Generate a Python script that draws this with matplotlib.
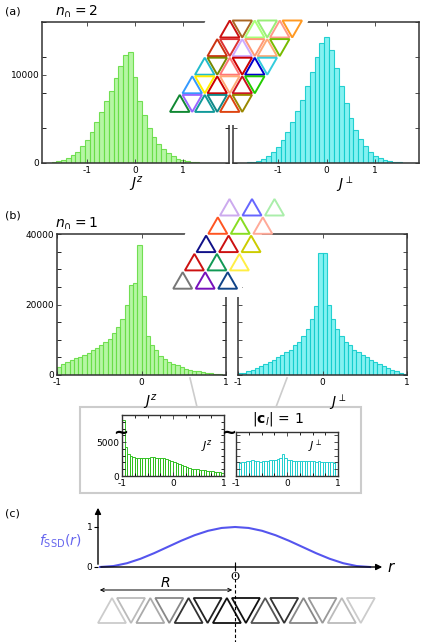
import numpy as np
import matplotlib
matplotlib.use("Agg")
import matplotlib.pyplot as plt
from matplotlib.patches import Polygon, Rectangle

W, H = 436, 642
# ---------------- data ----------------
a_jz_centers = [round(-1.8 + 0.1*i, 2) for i in range(35)]
a_jz = [50,100,200,350,600,900,1300,1900,2600,3500,4600,5800,7000,8200,9600,11000,12200,12600,
        9800,7000,5400,4000,3000,2200,1600,1100,750,500,330,200,120,70,40,20,10]
a_jp_centers = [round(-1.8 + 0.1*i, 2) for i in range(37)]
a_jp = [20,40,80,150,280,480,800,1250,1850,2600,3500,4600,5900,7200,8700,10300,12000,13600,14300,
        12800,10800,8700,6800,5100,3800,2700,1900,1300,850,550,350,220,130,80,40,20,10]
b_centers = [round(-0.975 + 0.05*i, 3) for i in range(40)]
b_jz = [2300,3000,3700,4200,4700,5200,5700,6300,7000,7800,8500,9300,10300,11800,13600,16000,
        20000,25500,26000,37000,22500,11000,8500,7000,5500,4500,3800,3200,2700,2200,1800,1500,
        1200,1000,800,600,450,300,200,100]
b_jp = [500,700,1100,1500,2000,2500,3100,3700,4300,5000,5700,6500,7200,8500,9500,11000,13000,
        16000,19500,34500,34500,20000,16000,13000,11000,9500,8500,7200,6500,5700,5000,4300,3700,
        3100,2500,2000,1500,1100,700,400]
i_jz = [8200,4300,3300,3000,2800,2700,2650,2600,2600,2650,2700,2800,2750,2700,2700,2650,2600,2500,
        2300,2200,2100,1900,1750,1600,1450,1300,1200,1100,1050,1000,950,900,850,800,750,700,650,600,550,500]
i_jp = [2000,1950,2000,2100,2150,2200,2300,2250,2200,2100,2150,2200,2250,2300,2300,2400,2500,2600,
        3300,2600,2400,2300,2250,2200,2200,2150,2200,2200,2250,2200,2200,2100,2150,2100,2050,2000,
        2000,2050,1950,2000]
c_r = [round(-1 + 0.1*i, 1) for i in range(21)]
c_f = [0,0.024,0.095,0.206,0.345,0.5,0.655,0.794,0.905,0.976,1,0.976,0.905,0.794,0.655,0.5,
       0.345,0.206,0.095,0.024,0]
lat_a_up = [['#cc1111','#aaff77','#ff9988'],['#cc3311','#ccaaff','#ffaa77'],
            ['#22bbcc','#ff7777','#0000cc'],['#3399ff','#cc0000','#cc1122'],
            ['#118833','#119999','#dd4411']]
lat_a_dn = [['#aa6622','#99ee77','#ff9922'],['#dd3333','#ff9977','#77bb00'],
            ['#778800','#cc0000','#33ccdd'],['#ffee00','#ffaa77','#22cc00'],
            ['#9966ff','#118888','#998800']]
lat_b_up = [['#ccaaee','#6666ff','#aaeeaa'],['#ff5522','#88dd22','#ffaa99'],
            ['#111188','#cc1111','#cccc00'],['#cc1111','#119955','#ffee44'],
            ['#777777','#7711bb','#114488']]
c_up = ['#cccccc','#aaaaaa','#333333','#111111','#555555','#888888','#bbbbbb']
c_dn = ['#bbbbbb','#888888','#222222','#111111','#333333','#999999','#cccccc']

GREEN_F, GREEN_E = '#aef59a', '#66dd44'
CYAN_F, CYAN_E = '#77f0f0', '#11cccc'
DGREEN_E = '#22bb11'

fig = plt.figure(figsize=(W/100, H/100), dpi=100)

def add_ax(x0, y0, x1, y1, **kw):
    return fig.add_axes([x0/W, 1-y1/H, (x1-x0)/W, (y1-y0)/H], **kw)

def style(ax, lw=1.1):
    for s in ax.spines.values():
        s.set_color('#333333'); s.set_linewidth(lw)
    ax.tick_params(direction='in', labelsize=6.5, length=3, width=0.6,
                   top=True, right=True, pad=2, colors='#333333', labelcolor='black')

def hist(ax, centers, vals, width, fc, ec, lw=0.8):
    ax.bar(centers, vals, width=width, color=fc, edgecolor=ec, linewidth=lw, alpha=0.9)

# ---------- panel (a) ----------
ax1 = add_ax(42, 22, 229, 163)
hist(ax1, a_jz_centers, a_jz, 0.1, GREEN_F, GREEN_E)
ax1.set_xlim(-1.95, 1.97); ax1.set_ylim(0, 16000)
ax1.set_xticks([-1, 0, 1]); ax1.set_yticks([0, 10000])
ax1.set_yticks(np.arange(0, 16001, 4000), minor=True)
style(ax1); ax1.tick_params(which='minor', direction='in', length=3, right=True)
ax2 = add_ax(233, 22, 419, 163)
hist(ax2, a_jp_centers, a_jp, 0.1, CYAN_F, CYAN_E)
ax2.set_xlim(-1.93, 1.9); ax2.set_ylim(0, 16000)
ax2.set_xticks([-1, 0, 1]); ax2.set_yticks(np.arange(0, 16001, 4000)); ax2.set_yticklabels([])
style(ax2)

# ---------- panel (b) ----------
ax3 = add_ax(57, 234, 226, 375)
hist(ax3, b_centers, b_jz, 0.05, GREEN_F, GREEN_E)
ax3.set_xlim(-1, 1); ax3.set_ylim(0, 40000)
ax3.set_xticks([-1, 0, 1]); ax3.set_yticks([0, 20000, 40000])
ax3.set_yticks(np.arange(0, 40001, 5000), minor=True)
style(ax3); ax3.tick_params(which='minor', direction='in', length=3, right=True)
ax4 = add_ax(238, 234, 407, 375)
hist(ax4, b_centers, b_jp, 0.05, CYAN_F, CYAN_E)
ax4.set_xlim(-1, 1); ax4.set_ylim(0, 40000)
ax4.set_xticks([-1, 0, 1])
ax4.set_yticks(np.arange(0, 40001, 5000)); ax4.set_yticklabels([])
style(ax4)
for a in (ax1, ax2, ax3, ax4):
    a.set_xticklabels(['-1', '0', '1'])

# ---------- inset ----------
ax5 = add_ax(122, 415, 224, 476)
hist(ax5, b_centers, i_jz, 0.05, 'white', DGREEN_E, 0.7)
ax5.set_xlim(-1, 1); ax5.set_ylim(0, 9000)
ax5.set_xticks([-1, 0, 1]); ax5.set_xticklabels(['-1', '0', '1'])
ax5.set_yticks([0, 5000]); ax5.set_yticks(np.arange(0, 9001, 1000), minor=True)
style(ax5, 1.0); ax5.tick_params(which='minor', direction='in', length=2, right=True, top=True)
ax5.set_xticks(np.arange(-1, 1.01, 0.25), minor=True)
ax6 = add_ax(236, 432, 338, 476)
hist(ax6, b_centers, i_jp, 0.05, 'white', CYAN_E, 0.7)
ax6.set_xlim(-1, 1); ax6.set_ylim(0, 6500)
ax6.set_xticks([-1, 0, 1]); ax6.set_xticklabels(['-1', '0', '1'])
ax6.set_yticks(np.arange(0, 6501, 1000)); ax6.set_yticklabels([])
ax6.set_xticks(np.arange(-1, 1.01, 0.25), minor=True)
style(ax6, 1.0); ax6.tick_params(which='minor', direction='in', length=2, top=True)

# ---------- panel (c) ----------
axc = add_ax(98, 505, 385, 567)
axc.plot(c_r, c_f, color='#5555ee', lw=1.5, clip_on=False)
axc.set_xlim(-1.015, 1.11); axc.set_ylim(0, 1.55)
for s in axc.spines.values():
    s.set_visible(False)
axc.set_xticks([0]); axc.set_xticklabels([])
axc.set_yticks([0, 1]); axc.set_yticklabels(['0', '1'])
axc.tick_params(axis='y', direction='out', length=3, labelsize=6.5, pad=1)
axc.tick_params(axis='x', direction='inout', length=5)
axc.annotate('', xy=(1.11, 0), xytext=(-1.015, 0), xycoords='data',
             arrowprops=dict(arrowstyle='-|>', color='black', lw=1.0, mutation_scale=9))
axc.annotate('', xy=(-1.015, 1.55), xytext=(-1.015, 0),
             arrowprops=dict(arrowstyle='-|>', color='black', lw=1.0, mutation_scale=9))
axc.patch.set_alpha(0)

# ---------- overlay ----------
ov = fig.add_axes([0, 0, 1, 1], zorder=10)
ov.set_xlim(0, W); ov.set_ylim(H, 0); ov.axis('off'); ov.patch.set_alpha(0)

def tri(x, ytop, s, h, up, color, lw=1.4):
    if up:
        pts = [(x, ytop+h), (x+s, ytop+h), (x+s/2, ytop)]
    else:
        pts = [(x, ytop), (x+s, ytop), (x+s/2, ytop+h)]
    ov.add_patch(Polygon(pts, closed=True, fill=False, edgecolor=color, lw=lw, joinstyle='miter'))

# white backgrounds behind lattices
ov.add_patch(Polygon([(208, 15), (311, 15), (262, 124), (160, 124)], closed=True,
                     facecolor='white', edgecolor='none'))
ov.add_patch(Rectangle((222, 110), 14, 15, facecolor='white', edgecolor='none'))
ov.add_patch(Polygon([(197, 196), (278, 196), (236, 296), (168, 296), (168, 288)], closed=True,
                     facecolor='white', edgecolor='none'))
ov.add_patch(Rectangle((222, 280), 20, 17, facecolor='white', edgecolor='none'))

for i in range(5):
    for k in range(3):
        xu = 220 - 12.5*i + 25*k
        yt = 20.5 + 18.6*i
        tri(xu, yt, 19.5, 17, True, lat_a_up[i][k])
        tri(xu + 12.5, yt, 19.5, 17, False, lat_a_dn[i][k])
for i in range(5):
    for k in range(3):
        xu = 220 - 11.7*i + 22.5*k
        yt = 199 + 18.3*i
        tri(xu, yt, 19, 16.5, True, lat_b_up[i][k])

# inset box and connectors
ov.add_patch(Rectangle((80, 407), 281, 86, fill=False, edgecolor='#cccccc', lw=1.5))
ov.plot([190, 197], [378, 407], color='#cccccc', lw=1.2)
ov.plot([287, 276], [378, 407], color='#cccccc', lw=1.2)
ov.text(121, 433, '~', fontsize=13, fontweight='bold', ha='center', va='center')
ov.text(229, 433, '~', fontsize=13, fontweight='bold', ha='center', va='center')

# panel (c) triangles
for k in range(7):
    tri(98 + 38.3*k, 598, 28, 25, True, c_up[k], 1.3)
    tri(117 + 38.3*k, 598, 28, 25, False, c_dn[k], 1.3)
ov.plot([235, 235], [562, 642], color='black', lw=0.8, ls=(0, (3, 2)))
ov.annotate('', xy=(97, 590), xytext=(235, 590),
            arrowprops=dict(arrowstyle='<->', color='black', lw=0.7, mutation_scale=6))

# texts
ov.text(5, 12, '(a)', fontsize=8, va='center')
ov.text(55, 12, r'$n_{\cap}=2$', fontsize=10, va='center')
ov.text(136, 184, r'$J^z$', fontsize=10, ha='center', va='center')
ov.text(345, 184, r'$J^\perp$', fontsize=10, ha='center', va='center')
ov.text(5, 216, '(b)', fontsize=8, va='center')
ov.text(55, 224, r'$n_{\cap}=1$', fontsize=10, va='center')
ov.text(150, 402, r'$J^z$', fontsize=10, ha='center', va='center')
ov.text(338, 402, r'$J^\perp$', fontsize=10, ha='center', va='center')
ov.text(278, 419, r'$|\mathbf{c}_l|\,=\,1$', fontsize=10, ha='center', va='center')
ov.text(207, 446, r'$J^z$', fontsize=8, ha='center', va='center')
ov.text(315, 446, r'$J^\perp$', fontsize=8, ha='center', va='center')
ov.text(5, 514, '(c)', fontsize=8, va='center')
ov.text(60, 541, r'$f_{\rm SSD}(r)$', fontsize=10, ha='center', va='center', color='#6666ee')
ov.text(392, 568, r'$r$', fontsize=11, ha='center', va='center')
ov.text(235, 577, 'O', fontsize=8, ha='center', va='center', family='DejaVu Serif')
ov.text(165, 583, r'$R$', fontsize=10, ha='center', va='center')

fig.savefig('out.png', dpi=100)
